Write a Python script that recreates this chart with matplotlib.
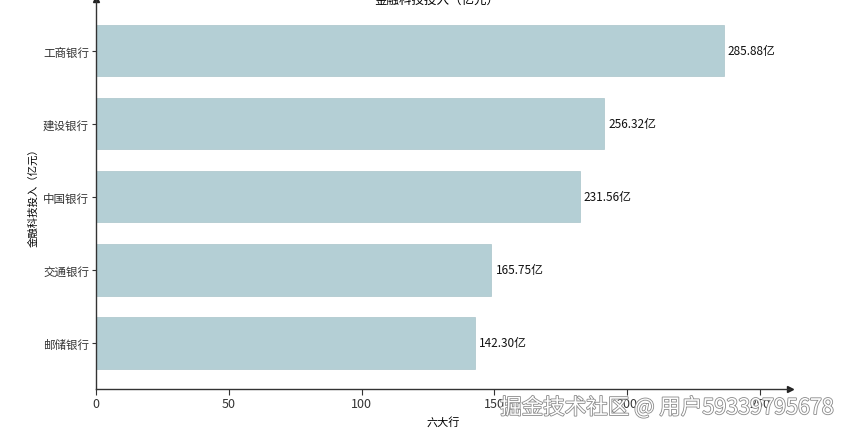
import matplotlib
matplotlib.use("Agg")
import matplotlib.pyplot as plt
import matplotlib.patheffects as pe

plt.rcParams["font.family"] = ["Noto Sans CJK SC", "DejaVu Sans"]

banks = ["工商银行", "建设银行", "中国银行", "交通银行", "邮储银行"]
bar_len = [236.4, 191.3, 182.2, 148.9, 142.7]
value_labels = ["285.88亿", "256.32亿", "231.56亿", "165.75亿", "142.30亿"]
xticks = [0, 50, 100, 150, 200, 250]

fig = plt.figure(figsize=(8.49, 4.35), dpi=100)
ax = fig.add_axes([96 / 849, 1 - 390 / 435, 694 / 849, 390 / 435])

ypos = list(range(len(banks)))[::-1]
ax.barh(ypos, bar_len, height=0.7, color="#b4cfd5", edgecolor="#a9c4ca", lw=0.5)
for y, v, t in zip(ypos, bar_len, value_labels):
    ax.text(v + 1.5, y, t, va="center", ha="left", fontsize=8.5, color="#111111")

ax.set_yticks(ypos)
ax.set_yticklabels(banks, fontsize=8.3, color="#111111")
ax.set_xticks(xticks)
ax.tick_params(axis="x", labelsize=9, length=4, width=0.8, pad=2, colors="#333333")
ax.tick_params(axis="y", length=3, width=0.8, pad=2, colors="#333333")
ax.set_xlim(0, 261.3)
ax.set_ylim(-0.63, 4.71)

for s in ["top", "right"]:
    ax.spines[s].set_visible(False)
for s in ["left", "bottom"]:
    ax.spines[s].set_color("#333333")
    ax.spines[s].set_linewidth(1.0)
ax.plot(1, 0, ">", color="#222222", ms=4, transform=ax.transAxes, clip_on=False)
ax.plot(0, 1, "^", color="#222222", ms=4, transform=ax.transAxes, clip_on=False)

ax.set_xlabel("六大行", fontsize=8, labelpad=4)
ax.set_ylabel("金融科技投入（亿元）", fontsize=7.5, labelpad=3)
fig.text(437 / 849, 1.0, "金融科技投入（亿元）", ha="center", va="center", fontsize=9)

fig.text(834 / 849, 1 - 409 / 435, "掘金技术社区 @ 用户59339795678", ha="right", va="center",
         fontsize=15.5, color="white",
         path_effects=[pe.withStroke(linewidth=1.2, foreground="#8a8a8a")])

fig.savefig("out.png", dpi=100)
